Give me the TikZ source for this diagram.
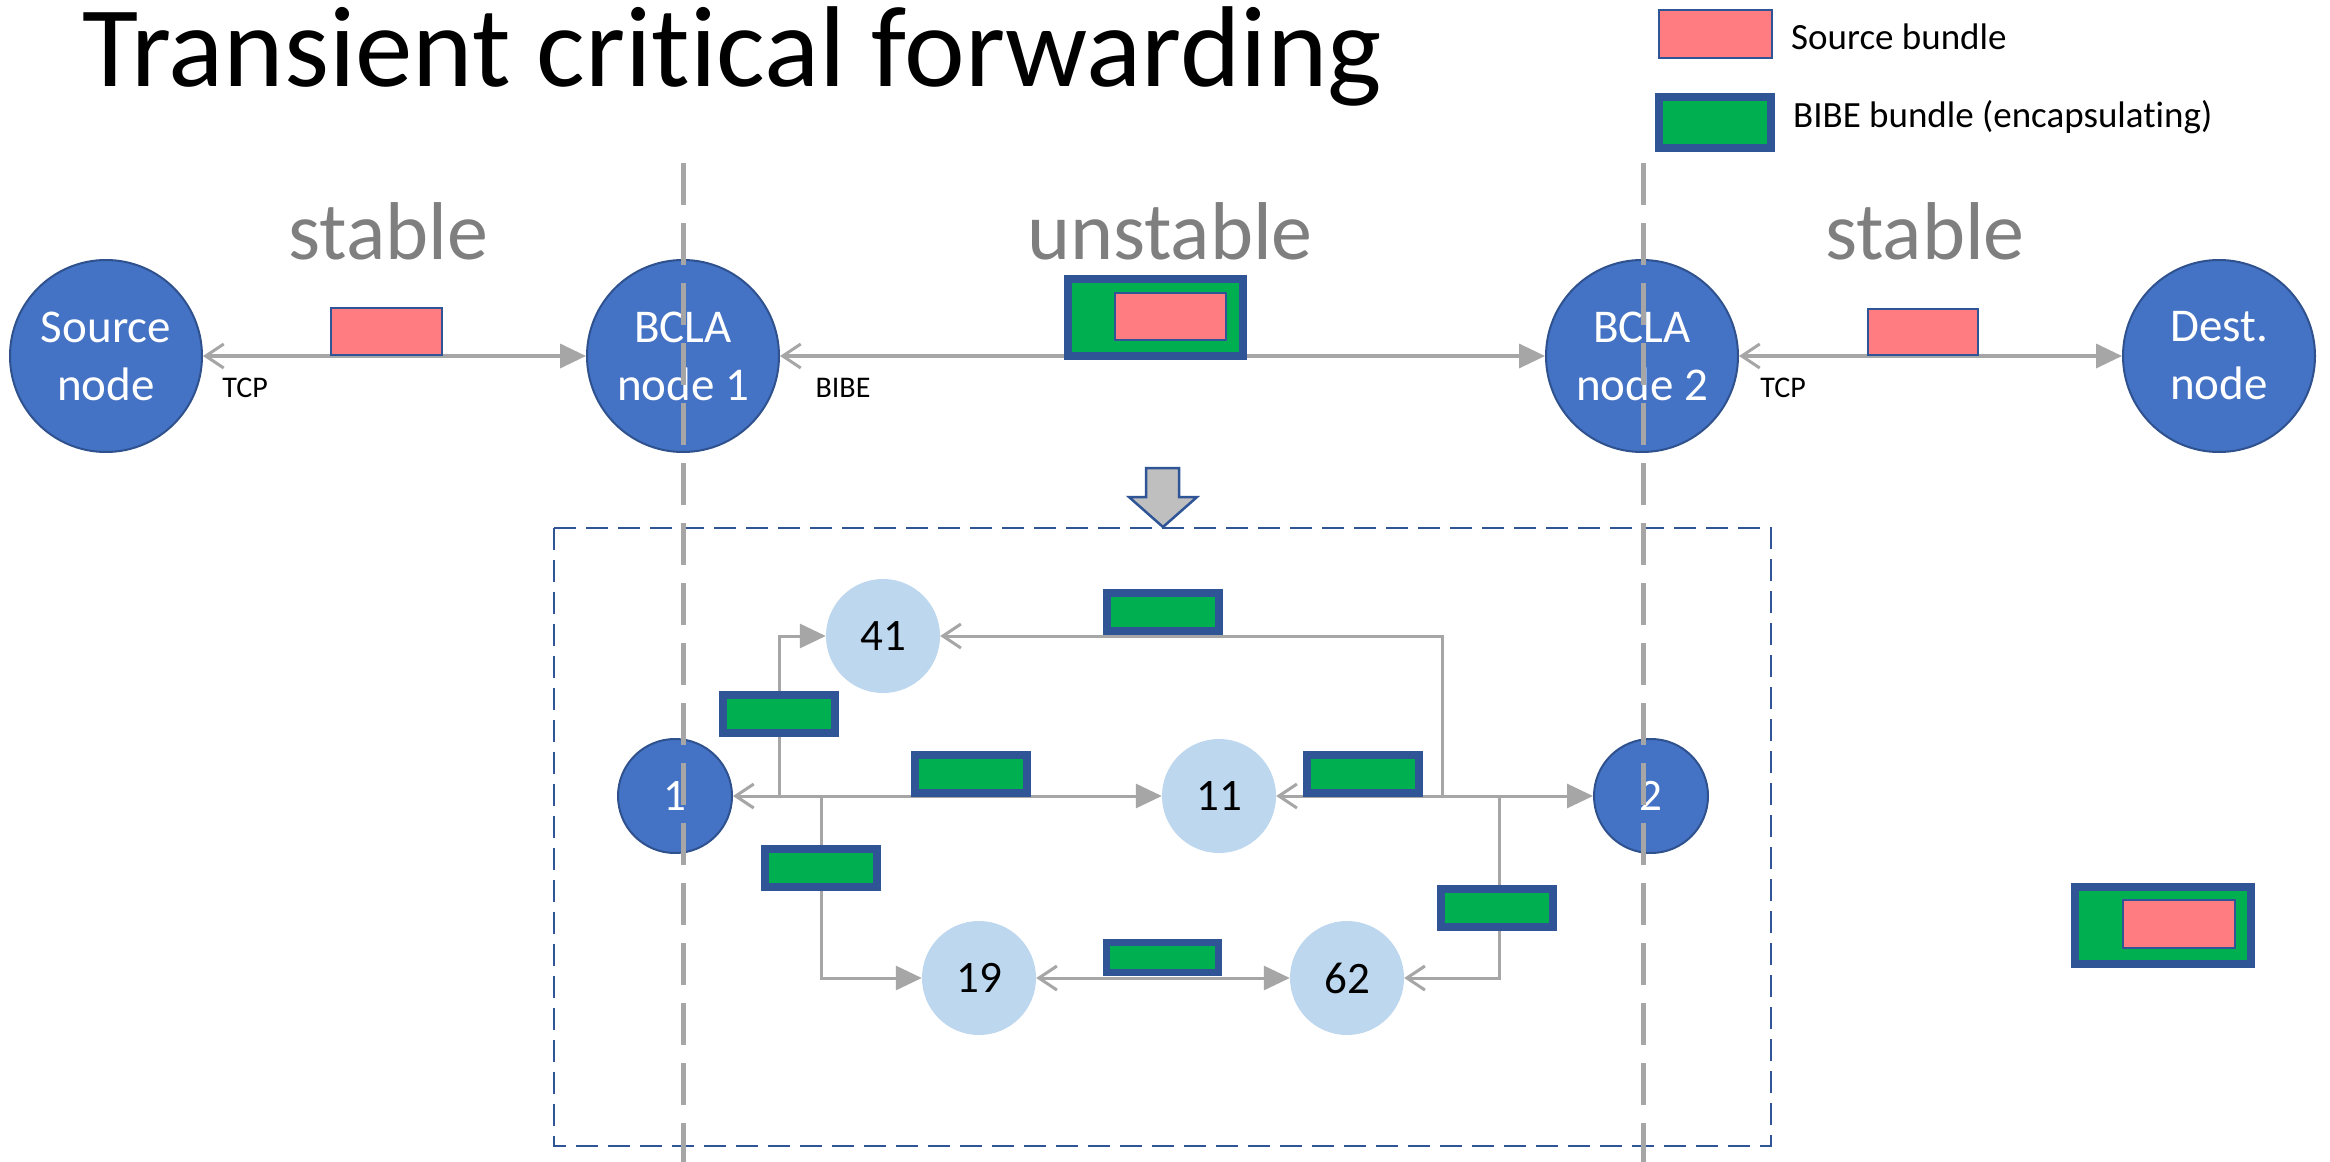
\documentclass[tikz,border=0pt]{standalone}
\usepackage{fontspec}
\setmainfont{Carlito}[Ligatures={NoCommon}]
\usetikzlibrary{arrows.meta}
\definecolor{nodeblue}{HTML}{4472C4}
\definecolor{nodeedge}{HTML}{2F528F}
\definecolor{lightblue}{HTML}{BDD7EE}
\definecolor{linegray}{HTML}{A6A6A6}
\definecolor{darkblue}{HTML}{2F5597}
\definecolor{bgreen}{HTML}{00B050}
\definecolor{bpink}{HTML}{FF7C80}
\definecolor{txtgray}{HTML}{7F7F7F}
\definecolor{arrowgray}{HTML}{BFBFBF}
\begin{document}
\begin{tikzpicture}[x=1pt,y=-1pt,
  bignode/.style={circle, fill=nodeblue, draw=nodeedge, line width=2pt, minimum size=192pt, inner sep=0pt, text=white, align=center, font=\fontsize{47}{58}\selectfont},
  smallblue/.style={circle, fill=nodeblue, draw=nodeedge, line width=2pt, minimum size=114pt, inner sep=0pt, text=white, font=\fontsize{45}{54}\selectfont},
  lightnode/.style={circle, fill=lightblue, minimum size=114pt, inner sep=0pt, text=black, font=\fontsize{45}{54}\selectfont},
  srcbundle/.style={rectangle, fill=bpink, draw=darkblue, line width=2pt, inner sep=0pt, minimum width=111pt, minimum height=47pt},
  bibebundle/.style={rectangle, fill=bgreen, draw=darkblue, line width=8pt, inner sep=0pt, minimum width=112pt, minimum height=38pt},
  bigbibe/.style={rectangle, fill=bgreen, draw=darkblue, line width=8pt, inner sep=0pt, minimum width=175pt, minimum height=77pt},
  zonelabel/.style={inner sep=0pt, anchor=base, text=txtgray, font=\fontsize{82}{98}\selectfont},
  proto/.style={inner sep=0pt, anchor=base, text=black, font=\fontsize{30}{36}\selectfont},
  legendtext/.style={inner sep=0pt, anchor=base west, text=black, font=\fontsize{37}{44}\selectfont},
  toplink/.style={draw=linegray, line width=3.5pt, {Straight Barb[length=18pt,width=24pt,line width=3pt]}-{Triangle[length=26pt,width=24pt]}},
  innerlink/.style={draw=linegray, line width=3pt, {Straight Barb[length=18pt,width=24pt,line width=3pt]}-{Triangle[length=26pt,width=24pt]}},
  filledend/.style={draw=linegray, line width=3pt, -{Triangle[length=26pt,width=24pt]}},
  openend/.style={draw=linegray, line width=3pt, -{Straight Barb[length=18pt,width=24pt,line width=3pt]}},
  vdash/.style={draw=linegray, line width=5pt, dash pattern=on 42pt off 18pt},
  zonebox/.style={draw=darkblue, line width=2.5pt, dash pattern=on 22pt off 10pt},
  downarrow/.style={fill=arrowgray, draw=darkblue, line width=2.5pt, line join=miter}
]
\useasboundingbox (0,0) rectangle (2330,1162);
\fill[white] (0,0) rectangle (2330,1162);

% title
\node[inner sep=0pt, anchor=base west, font=\fontsize{115}{138}\selectfont] (title) at (82,86) {Transient critical forwarding};

% legend
\node[srcbundle, minimum width=113pt, minimum height=48pt] (legsrc) at (1715.5,34) {};
\node[legendtext] (legsrctxt) at (1791,49) {Source bundle};
\node[bibebundle, minimum width=112pt, minimum height=51pt] (legbibe) at (1715,122.5) {};
\node[legendtext] (legbibetxt) at (1793,127) {BIBE bundle (encapsulating)};

% zone labels
\node[zonelabel] (stableL) at (388.5,259) {stable};
\node[zonelabel] (unstable) at (1170,259) {unstable};
\node[zonelabel] (stableR) at (1925,259) {stable};

% top nodes
\node[bignode] (src) at (106,356) {Source\\node};
\node[bignode] (b1) at (683,356) {BCLA\\node 1};
\node[bignode] (b2) at (1642,356) {BCLA\\node 2};
\node[bignode] (dst) at (2219,356) {Dest.\\node};

\draw[toplink] (src) -- (b1);
\draw[toplink] (b1) -- (b2);
\draw[toplink] (b2) -- (dst);

\node[proto] (tcp1) at (245,397) {TCP};
\node[proto] (bibe) at (843,397) {BIBE};
\node[proto] (tcp2) at (1783,397) {TCP};

\node[srcbundle, minimum width=111pt, minimum height=47pt] (sb1) at (386.5,331.5) {};
\node[bigbibe] (bb1) at (1155.5,317.5) {};
\node[srcbundle, minimum width=111pt, minimum height=47pt] (sb1in) at (1170.5,316.5) {};
\node[srcbundle, minimum width=110pt, minimum height=46pt] (sb2) at (1923,332) {};

% down arrow
\draw[downarrow] (1146,468) -- (1179,468) -- (1179,497) -- (1197,497) -- (1163,527) -- (1129,497) -- (1146,497) -- cycle;

% dashed zone box
\draw[zonebox] (554,528) rectangle (1771,1146);

% inner nodes
\node[smallblue] (n1) at (675,796) {1};
\node[lightnode] (n41) at (883,636) {41};
\node[lightnode] (n11) at (1219,796) {11};
\node[smallblue] (n2) at (1651,796) {2};
\node[lightnode] (n19) at (979,978) {19};
\node[lightnode] (n62) at (1347,978) {62};

\coordinate (j41) at (779,796);
\coordinate (j19) at (821,796);
\coordinate (jt) at (1442,796);
\coordinate (j62) at (1499,796);

\draw[innerlink] (n1) -- (n11);
\draw[innerlink] (n11) -- (n2);
\draw[filledend] (j41) |- (n41);
\draw[filledend] (j19) |- (n19);
\draw[openend] (jt) |- (n41);
\draw[openend] (j62) |- (n62);
\draw[innerlink] (n19) -- (n62);

\node[bibebundle] (g41) at (779,714) {};
\node[bibebundle] (g19) at (821,868) {};
\node[bibebundle] (g111) at (971,774) {};
\node[bibebundle] (gtop) at (1162.5,611.5) {};
\node[bibebundle] (g112) at (1362.5,774) {};
\node[bibebundle] (g62) at (1497,908) {};
\node[bibebundle, line width=7pt, minimum width=112pt, minimum height=30pt] (g1962) at (1162.5,957.5) {};

% standalone encapsulated bundle
\node[bigbibe, minimum width=176pt, minimum height=77pt] (bb2) at (2163,925.5) {};
\node[srcbundle, minimum width=112pt, minimum height=48pt] (sb3) at (2179,924) {};

% vertical dashed separators
\coordinate (v1top) at (683,163);
\coordinate (v1bot) at (683,1162);
\coordinate (v2top) at (1643,163);
\coordinate (v2bot) at (1643,1162);
\draw[vdash] (v1top) -- (v1bot);
\draw[vdash] (v2top) -- (v2bot);
\end{tikzpicture}
\end{document}
